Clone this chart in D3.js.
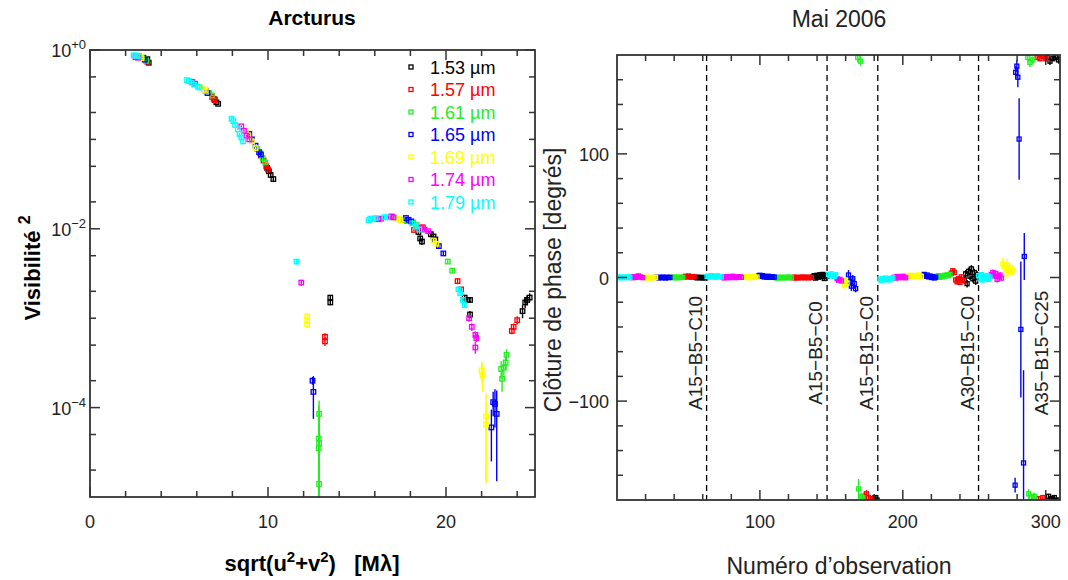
<!DOCTYPE html>
<html><head><meta charset="utf-8">
<script src="https://cdn.jsdelivr.net/npm/d3@7"></script>
<style>
body{margin:0;background:#fff}
svg{display:block}
text{font-family:"Liberation Sans",Arial,Helvetica,sans-serif}
</style>
</head><body>
<svg id="chart" width="1068" height="580"></svg>
<script>
// ---- Visibility data: [spatial frequency (Mλ), V², error] ----
const wavelengths = ["1.53", "1.57", "1.61", "1.65", "1.69", "1.74", "1.79"];
const colors = ["#000000", "#ff0000", "#22ee22", "#0000ff", "#ffff00", "#ff00ff", "#00ffff"];

const vis153 = [[3.22,0.79,0.01],[3.3,0.72,0.01],[7.0,0.28,0.005],[7.1,0.26,0.005],[7.2,0.25,0.005],
  [9.95,0.048,0.002],[10.05,0.044,0.002],[10.15,0.04,0.002],[10.3,0.036,0.002],
  [13.5,0.0017,0.0001],[13.5,0.0015,0.0001],
  [18.45,0.0092,0.0006],[18.55,0.0078,0.0006],[18.65,0.0072,0.0006],[19.15,0.0087,0.0006],[19.3,0.0082,0.0006],[19.4,0.0076,0.0006],
  [21.05,0.0017,0.0001],[21.2,0.0016,0.0001],[21.35,0.0016,0.0001],[21.35,0.0011,0.0001],
  [24.3,0.0012,0.0002],[24.45,0.0015,0.0002],[24.55,0.0016,0.0002],[24.7,0.0017,0.0002]];
const vis157 = [[3.15,0.78,0.01],[3.22,0.74,0.01],[6.85,0.3,0.005],[6.95,0.285,0.005],[7.0,0.275,0.005],
  [9.6,0.066,0.002],[9.75,0.058,0.002],[9.9,0.05,0.002],[10.0,0.046,0.002],
  [13.2,0.00062,0.00006],[13.2,0.00055,0.00006],
  [18.2,0.0097,0.0004],[18.7,0.0104,0.0004],[20.65,0.0026,0.0002],[20.85,0.0021,0.0001],
  [23.7,0.00072,0.00006],[23.8,0.0008,0.00007],[24.0,0.00095,0.0001]];
const vis161 = [[3.05,0.8,0.01],[3.15,0.76,0.01],[6.7,0.33,0.005],[6.85,0.31,0.005],
  [9.4,0.078,0.002],[9.55,0.07,0.002],[9.7,0.062,0.002],[9.85,0.055,0.002],
  [12.87,8.5e-5,3.5e-5],[12.85,4.5e-5,6e-5],[12.87,4.0e-5,5e-5],[12.85,3.5e-5,5e-5],[12.87,1.4e-5,5e-5],
  [17.6,0.0126,0.0004],[17.8,0.0122,0.0004],[18.15,0.0118,0.0004],[18.35,0.011,0.0004],[20.1,0.0043,0.0002],[20.35,0.0034,0.0002],
  [23.1,2.7e-4,0.6e-4],[23.15,2.1e-4,0.6e-4],[23.25,2.8e-4,0.5e-4],[23.35,3.2e-4,0.5e-4],[23.4,3.9e-4,0.6e-4]];
const vis165 = [[3.0,0.82,0.01],[3.08,0.78,0.01],[6.5,0.35,0.005],[6.6,0.33,0.005],
  [8.95,0.115,0.003],[9.1,0.1,0.003],[9.3,0.085,0.003],[9.5,0.072,0.003],[9.6,0.068,0.003],
  [12.5,2.0e-4,0.2e-4],[12.55,1.5e-4,0.75e-4],
  [16.95,0.0137,0.0004],[17.75,0.0132,0.0004],[17.9,0.0126,0.0004],[18.05,0.0121,0.0004],[19.6,0.0064,0.0003],[19.85,0.0053,0.0003],
  [22.55,6e-5,3.5e-5],[22.65,1.15e-4,3.5e-5],[22.75,1.1e-4,5e-5],[22.85,8.5e-5,7e-5]];
const vis169 = [[2.85,0.84,0.01],[2.9,0.81,0.01],[6.2,0.385,0.005],[6.4,0.36,0.005],[6.5,0.35,0.005],
  [8.75,0.125,0.003],[8.9,0.11,0.003],[9.1,0.095,0.003],[9.3,0.08,0.003],
  [12.2,0.00105,0.00008],[12.2,0.00095,0.00008],[12.2,0.00085,0.00008],
  [17.15,0.0133,0.0004],[17.3,0.013,0.0004],[17.45,0.0125,0.0004],[19.3,0.0074,0.0003],[19.45,0.0068,0.0003],
  [22.0,0.00026,0.00007],[22.05,0.00023,0.00008],[22.25,8.0e-5,6.6e-5],[22.25,6.5e-5,5e-5]];
const vis174 = [[2.55,0.83,0.01],[2.7,0.82,0.01],[5.75,0.44,0.005],[5.9,0.42,0.005],
  [8.5,0.14,0.003],[8.65,0.125,0.003],[8.8,0.11,0.003],[8.95,0.1,0.003],
  [11.87,0.0025,0.0002],
  [16.2,0.0128,0.0004],[16.35,0.013,0.0004],[16.9,0.0136,0.0004],[17.05,0.0134,0.0004],[18.6,0.0103,0.0004],[18.8,0.0098,0.0004],[19.0,0.0094,0.0004],
  [21.3,0.001,0.00008],[21.45,0.0008,0.00008],[21.65,0.00065,0.00006],[21.7,0.0006,0.00006],[21.65,0.00047,0.00007]];
const vis179 = [[2.45,0.87,0.01],[2.55,0.87,0.01],[2.65,0.86,0.01],[2.75,0.86,0.01],
  [5.45,0.46,0.005],[5.55,0.45,0.005],[5.7,0.43,0.005],[5.85,0.41,0.005],[6.05,0.39,0.005],[6.15,0.38,0.005],
  [7.95,0.17,0.004],[8.05,0.16,0.004],[8.15,0.145,0.004],[8.3,0.13,0.003],[8.4,0.115,0.003],[8.5,0.105,0.003],[8.6,0.095,0.003],
  [11.6,0.0043,0.0003],
  [15.65,0.0125,0.0004],[15.75,0.013,0.0004],[15.9,0.0128,0.0004],[16.05,0.0132,0.0004],[16.55,0.0135,0.0004],[16.7,0.0134,0.0004],
  [18.1,0.0115,0.0004],[18.3,0.0106,0.0004],[18.5,0.0098,0.0004],
  [20.7,0.0021,0.0001],[20.8,0.0019,0.0001],[20.95,0.0016,0.0001],[21.05,0.0014,0.0001]];
const visSeries = [vis153, vis157, vis161, vis165, vis169, vis174, vis179];

// ---- Closure phase data: [observation number, phase (deg), error] ----
const cp153 = [[55,0.1,0.8],[56,-0.3,0.8],[57,0.2,0.8],[58,-0.1,0.8],[59,0.0,0.8],[60,-0.4,0.8],[61,0.1,0.8],[62,-0.2,0.8],
  [137,0.5,1.2],[138,1.5,1.2],[139,-0.5,1.2],[140,1.8,1.2],[141,0.2,1.2],[142,2.2,1.5],[143,0.8,1.5],[144,2.5,1.5],[145,-0.8,1.5],[146,1.9,1.5],[147,1.0,1.5],
  [179,-179,2],[180.5,-178,2],[182,-180,1],
  [243,-2,3],[244,3,3],[245,-5,3],[246,5,3],[247,1,3],[248,7,3],[249,-1,3],[250,4,3],[251,-3,3],[252,2,3],
  [301,178,3],[303,175,3],[305,177,2],[307,178,2],[309,176,3],[302,-177,2],[304,-179,2],[306,-178,2],[308,-180,2]];
const cp157 = [[47,0.3,0.8],[48,1.0,0.8],[49,0.5,0.8],[50,1.2,0.8],[51,0.6,0.8],[52,0.2,0.8],[53,0.8,0.8],[54,0.4,0.8],
  [123,-0.2,1],[124,0.3,1],[125,-0.4,1],[126,0.1,1],[127,-0.3,1],[128,0.2,1],[129,-0.1,1],[130,0.4,1],[131,-0.2,1],[132,0.0,1],[133,0.3,1],[134,-0.3,1],[135,0.1,1],[136,-0.1,1],
  [173,-177,3],[174.5,-175,3],[176,-178,2],[177.5,-179,2],
  [234,3.5,2],[235,5.5,2],[236,4.0,2],[237,-2.0,2],[238,-3.5,2],[239,-1.0,2],[240,-4.0,2],[241,0.5,2],[242,-2.5,2],
  [294,178,2],[296,177,2],[298,179,2],[300,177,2],[295,-179,2],[298,-178,2]];
const cp161 = [[38,0.2,0.8],[39,-0.2,0.8],[40,0.4,0.8],[41,0.0,0.8],[42,-0.3,0.8],[43,0.3,0.8],[44,0.1,0.8],[45,-0.1,0.8],[46,0.2,0.8],
  [111,0.0,1],[112,-0.5,1],[113,0.3,1],[114,-0.2,1],[115,0.1,1],[116,-0.4,1],[117,0.2,1],[118,0.0,1],[119,-0.3,1],[120,0.4,1],[121,0.1,1],[122,-0.2,1],
  [168.5,178,4],[170.5,175,4],[169,-171,8],[171,-177,3],[172,-178,3],
  [224,0.5,1.2],[225,1.5,1.2],[226,0.2,1.2],[227,1.0,1.2],[228,0.6,1.2],[229,1.8,1.2],[230,1.2,1.2],[231,2.2,1.2],[232,1.5,1.2],[233,2.5,1.2],
  [287.5,178,4],[289,174,4],[291,176,3],[288,-175,4],[290,-178,3],[292,-177,3]];
const cp165 = [[28,0.2,0.8],[29,-0.3,0.8],[30,0.1,0.8],[31,-0.2,0.8],[32,0.3,0.8],[33,0.0,0.8],[34,-0.4,0.8],[35,0.2,0.8],[36,-0.1,0.8],[37,0.1,0.8],
  [99,1.2,1],[100,1.8,1],[101,0.9,1],[102,1.5,1],[103,0.4,1],[104,0.8,1],[105,0.2,1],[106,1.0,1],[107,0.5,1],[108,0.1,1],[109,0.6,1],[110,0.3,1],
  [162,2,4],[163,-3,4],[164,-7,4],[165,-1,3],[166,-5,4],[167,-9,3],
  [214,1.5,1.2],[215,2.5,1.2],[216,1.0,1.2],[217,2.0,1.2],[218,0.5,1.2],[219,1.2,1.2],[220,0.0,1.2],[221,0.8,1.2],[222,-0.4,1.2],[223,0.3,1.2],
  [278.6,-168,6],[279,166,5],[279.8,171,5],[280.5,162,8],[281.4,112,33],[282.6,-42,55],[284.5,-150,75],[285,17,19]];
const cp169 = [[19,0.1,0.8],[20,-0.3,0.8],[21,0.2,0.8],[22,-0.5,0.8],[23,0.0,0.8],[24,-0.4,0.8],[25,0.2,0.8],[26,-0.2,0.8],[27,0.1,0.8],
  [88,0.3,1],[89,0.8,1],[90,0.1,1],[91,0.6,1],[92,-0.2,1],[93,0.4,1],[94,0.9,1],[95,0.2,1],[96,0.5,1],[97,0.0,1],[98,0.3,1],
  [158,-3.0,2],[159,-6.0,3],[160,-2.0,2],[161,-4.5,3],
  [203,1.2,1],[204,0.6,1],[205,1.8,1],[206,1.0,1],[207,1.5,1],[208,0.8,1],[209,1.6,1],[210,1.1,1],[211,2.0,1],[212,1.3,1],[213,0.9,1],
  [270,11,5],[271,8.5,4],[272,3,5],[273,10,5],[274,5,4],[275,8,4],[276,4.5,3],[277,6,4]];
const cp174 = [[10,0.3,0.8],[11,-0.2,0.8],[12,0.6,0.8],[13,0.1,0.8],[14,0.8,0.8],[15,1.3,0.8],[16,0.4,0.8],[17,0.2,0.8],[18,-0.1,0.8],
  [74,0.5,1],[75,-0.4,1],[76,0.3,1],[77,0.8,1],[78,0.1,1],[79,-0.2,1],[80,0.6,1],[81,1.0,1],[82,0.3,1],[83,-0.1,1],[84,0.4,1],[85,0.2,1],[86,0.7,1],[87,0.1,1],
  [154,-1.0,1.5],[155,-2.2,1.5],[156,-1.5,1.5],[157,-2.8,1.5],
  [194,0.2,1],[195,-0.5,1],[196,0.8,1],[197,0.4,1],[198,-0.2,1],[199,0.6,1],[200,1.0,1],[201,0.3,1],[202,-0.3,1],
  [262,2.5,2],[263,4.0,2.5],[264,1.2,2],[265,3.2,2.5],[266,-1.5,2.5],[267,0.8,2],[268,2.0,2],[269,-0.5,2]];
const cp179 = [[1,0.2,0.8],[2,-0.3,0.8],[3,0.4,0.8],[4,0.1,0.8],[5,-0.2,0.8],[6,0.3,0.8],[7,0,0.8],[8,0.5,0.8],[9,-0.1,0.8],
  [63,0.8,1],[64,1.2,1],[65,0.3,1],[66,1.5,1],[67,0.6,1],[68,1.0,1],[69,0.2,1],[70,1.4,1],[71,0.7,1],[72,0.9,1],[73,0.4,1],
  [148,2.5,1.5],[149,1.2,1.5],[150,3.0,1.5],[151,1.8,1.5],[152,0.9,1.5],[153,2.2,1.5],
  [184,-1.2,1.2],[185,-2.4,1.2],[186,-0.8,1.2],[187,-1.9,1.2],[188,-0.5,1.2],[189,-1.6,1.2],[190,-2.0,1.2],[191,-0.7,1.2],[192,-1.1,1.2],[193,-0.3,1.2],
  [253,1.5,2],[254,-1.2,2],[255,2.4,2],[256,-2.0,2],[257,0.8,2],[258,-0.9,2],[259,1.6,2],[260,-1.5,2],[261,0.4,2]];
const cpSeries = [cp153, cp157, cp161, cp165, cp169, cp174, cp179];

// Array configurations (observation number where each one starts)
const configStarts = [62.7, 147, 182.5, 253, 305];
const configNames = ["A15\u2212B5\u2212C10", "A15\u2212B5\u2212C0", "A15\u2212B15\u2212C0", "A30\u2212B15\u2212C0", "A35\u2212B15\u2212C25"];

const svg = d3.select("#chart");
svg.append("rect").attr("width", 1068).attr("height", 580).attr("fill", "#fff");

const AXIS = "#333";
const MAJOR = 10, MINOR = 6;

function frame(g, b) {
  g.append("rect").attr("x", b.x0).attr("y", b.y0).attr("width", b.x1 - b.x0).attr("height", b.y1 - b.y0)
    .attr("fill", "none").attr("stroke", AXIS).attr("stroke-width", 1.8);
}
function xTicks(g, b, xs, scale, len) {
  xs.forEach(v => {
    const x = scale(v);
    g.append("line").attr("x1", x).attr("x2", x).attr("y1", b.y1).attr("y2", b.y1 - len).attr("stroke", AXIS).attr("stroke-width", 1.5);
    g.append("line").attr("x1", x).attr("x2", x).attr("y1", b.y0).attr("y2", b.y0 + len).attr("stroke", AXIS).attr("stroke-width", 1.5);
  });
}
function yTicks(g, b, ys, scale, len) {
  ys.forEach(v => {
    const y = scale(v);
    g.append("line").attr("y1", y).attr("y2", y).attr("x1", b.x0).attr("x2", b.x0 + len).attr("stroke", AXIS).attr("stroke-width", 1.5);
    g.append("line").attr("y1", y).attr("y2", y).attr("x1", b.x1).attr("x2", b.x1 - len).attr("stroke", AXIS).attr("stroke-width", 1.5);
  });
}
function drawPoints(g, data, x, y, color, size, lo, hi) {
  data.forEach(d => {
    const top = d[1] + d[2], bot = Math.max(d[1] - d[2], lo);
    g.append("line").attr("x1", x(d[0])).attr("x2", x(d[0]))
      .attr("y1", y(Math.min(top, hi))).attr("y2", y(bot))
      .attr("stroke", color).attr("stroke-width", 1.4);
  });
  g.selectAll(null).data(data).enter().append("rect")
    .attr("x", d => x(d[0]) - size / 2).attr("y", d => y(d[1]) - size / 2)
    .attr("width", size).attr("height", size)
    .attr("fill", "none").attr("stroke", color).attr("stroke-width", 1.3);
}

// ================= Left panel: squared visibility =================
const L = {x0: 90, x1: 535, y0: 50, y1: 497};
const xL = d3.scaleLinear().domain([0, 25]).range([L.x0, L.x1]);
const yL = d3.scaleLog().domain([1e-5, 1]).range([L.y1, L.y0]);
const gL = svg.append("g");

svg.append("clipPath").attr("id", "clipL").append("rect")
  .attr("x", L.x0).attr("y", L.y0).attr("width", L.x1 - L.x0).attr("height", L.y1 - L.y0);
const dataL = gL.append("g").attr("clip-path", "url(#clipL)");
visSeries.forEach((s, i) => drawPoints(dataL, s, xL, yL, colors[i], 4.5, 1e-6, 10));

frame(gL, L);
const xMajorL = [0, 10, 20];
xTicks(gL, L, d3.range(0, 25.01, 2).filter(v => !xMajorL.includes(v)), xL, MINOR);
xTicks(gL, L, xMajorL, xL, MAJOR);
const yMajorL = [1, 1e-2, 1e-4];
const yMinorL = [];
for (let k = -5; k <= 0; k++) [1, 2, 5].forEach(m => {
  const v = m * Math.pow(10, k);
  if (v > 1e-5 && v < 1 && !yMajorL.some(M => Math.abs(M - v) / v < 1e-6)) yMinorL.push(v);
});
yTicks(gL, L, yMinorL, yL, MINOR);
yTicks(gL, L, yMajorL, yL, MAJOR);

gL.selectAll(null).data(xMajorL).enter().append("text")
  .attr("x", d => xL(d)).attr("y", 528).attr("text-anchor", "middle")
  .attr("font-size", 18).attr("fill", "#222").text(d => d);
const yLabelsL = [[1, "+0"], [1e-2, "\u22122"], [1e-4, "\u22124"]];
yLabelsL.forEach(([v, e]) => {
  const t = gL.append("text").attr("x", 86).attr("y", yL(v) + 7).attr("text-anchor", "end")
    .attr("font-size", 18).attr("fill", "#222");
  t.append("tspan").text("10");
  t.append("tspan").attr("dy", -8).attr("font-size", 13).text(e);
});

// legend
wavelengths.forEach((w, i) => {
  const cy = 67 + i * 22.5;
  gL.append("rect").attr("x", 409).attr("y", cy - 2).attr("width", 4).attr("height", 4)
    .attr("fill", "none").attr("stroke", colors[i]).attr("stroke-width", 1.3);
  gL.append("text").attr("x", 430).attr("y", cy + 6.5).attr("font-size", 18)
    .attr("fill", colors[i]).text(w + " \u00b5m");
});

gL.append("text").attr("x", 312).attr("y", 25).attr("text-anchor", "middle")
  .attr("font-size", 21).attr("font-weight", "bold").text("Arcturus");

const xt = gL.append("text").attr("x", 312).attr("y", 571).attr("text-anchor", "middle")
  .attr("font-size", 22).attr("font-weight", "bold");
xt.append("tspan").text("sqrt(u");
xt.append("tspan").attr("dy", -9).attr("font-size", 15).text("2");
xt.append("tspan").attr("dy", 9).text("+v");
xt.append("tspan").attr("dy", -9).attr("font-size", 15).text("2");
xt.append("tspan").attr("dy", 9).text(")\u00a0\u00a0\u00a0[M\u03bb]");

const yt = gL.append("text").attr("transform", "translate(40,268) rotate(-90)")
  .attr("text-anchor", "middle").attr("font-size", 22).attr("font-weight", "bold");
yt.append("tspan").text("Visibilit\u00e9 ");
yt.append("tspan").attr("dy", -10).attr("font-size", 16).text("2");

// ================= Right panel: closure phase =================
const R = {x0: 617, x1: 1060, y0: 55, y1: 500};
const xR = d3.scaleLinear().domain([0, 310]).range([R.x0, R.x1]);
const yR = d3.scaleLinear().domain([-180, 180]).range([R.y1, R.y0]);
const gR = svg.append("g");

svg.append("clipPath").attr("id", "clipR").append("rect")
  .attr("x", R.x0).attr("y", R.y0).attr("width", R.x1 - R.x0).attr("height", R.y1 - R.y0);
const dataR = gR.append("g").attr("clip-path", "url(#clipR)");

configStarts.slice(0, 4).forEach(o => {
  dataR.append("line").attr("x1", xR(o)).attr("x2", xR(o)).attr("y1", R.y0).attr("y2", R.y1)
    .attr("stroke", "#000").attr("stroke-width", 1.3).attr("stroke-dasharray", "6,4");
});
cpSeries.forEach((s, i) => drawPoints(dataR, s, xR, yR, colors[i], 4, -400, 400));

configStarts.forEach((o, i) => {
  gR.append("text").attr("transform", `translate(${xR(o) - 5},353) rotate(-90)`)
    .attr("text-anchor", "middle").attr("font-size", 19).attr("fill", "#222").text(configNames[i]);
});

frame(gR, R);
const xMajorR = [100, 200, 300];
xTicks(gR, R, d3.range(20, 310, 20).filter(v => !xMajorR.includes(v)), xR, MINOR);
xTicks(gR, R, xMajorR, xR, MAJOR);
const yMajorR = [-100, 0, 100];
yTicks(gR, R, d3.range(-160, 180, 20).filter(v => !yMajorR.includes(v)), yR, MINOR);
yTicks(gR, R, yMajorR, yR, MAJOR);

const fmt = d3.format("d");
gR.selectAll(null).data(xMajorR).enter().append("text")
  .attr("x", d => xR(d)).attr("y", 528).attr("text-anchor", "middle")
  .attr("font-size", 18).attr("fill", "#222").text(fmt);
gR.selectAll(null).data(yMajorR).enter().append("text")
  .attr("x", 609).attr("y", d => yR(d) + 7).attr("text-anchor", "end")
  .attr("font-size", 18).attr("fill", "#222").text(fmt);

gR.append("text").attr("x", 839).attr("y", 27).attr("text-anchor", "middle")
  .attr("font-size", 23).attr("fill", "#222").text("Mai 2006");
gR.append("text").attr("x", 839).attr("y", 574).attr("text-anchor", "middle")
  .attr("font-size", 23).attr("fill", "#222").text("Num\u00e9ro d\u2019observation");
gR.append("text").attr("transform", "translate(561,280) rotate(-90)").attr("text-anchor", "middle")
  .attr("font-size", 23).attr("fill", "#222").text("Cl\u00f4ture de phase [degr\u00e9s]");
</script>
</body></html>
